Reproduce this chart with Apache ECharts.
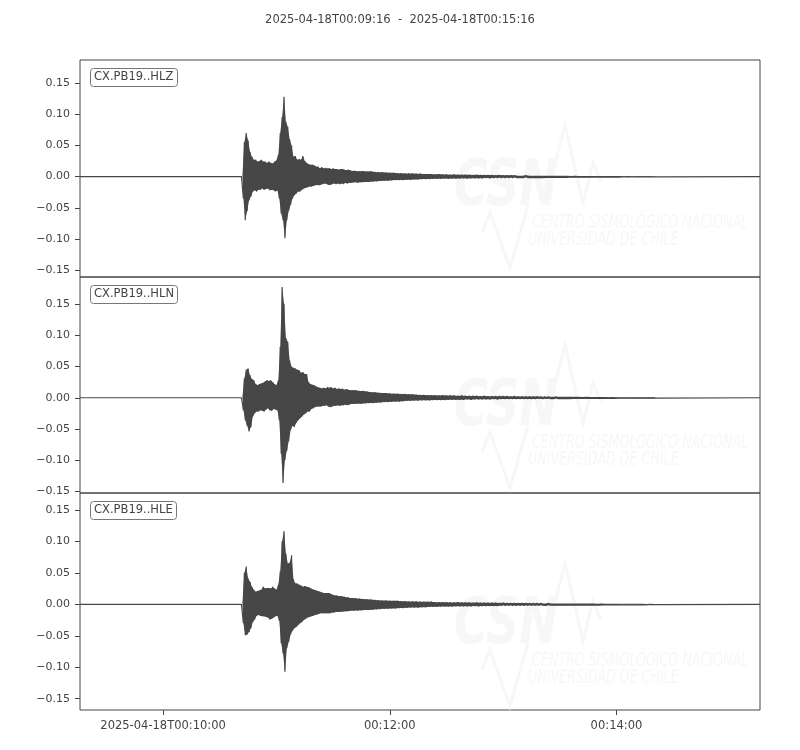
<!DOCTYPE html>
<html><head><meta charset="utf-8">
<script src="https://cdn.jsdelivr.net/npm/echarts@6/dist/echarts.min.js"></script>
<style>html,body{margin:0;padding:0;background:#fff}#c{width:800px;height:750px}</style>
</head><body><div id="c"></div>
<script>
// ---- data ----
const titleText = '2025-04-18T00:09:16  -  2025-04-18T00:15:16';
const channels = ['CX.PB19..HLZ', 'CX.PB19..HLN', 'CX.PB19..HLE'];
const timeRange = [556, 916];            // seconds after 2025-04-18T00:00:00
const xTicks = [600, 720, 840];
const xTickLabels = ['2025-04-18T00:10:00', '00:12:00', '00:14:00'];
const yTicks = [-0.15, -0.10, -0.05, 0, 0.05, 0.10, 0.15];
const yLimits = [[-0.161, 0.187], [-0.153, 0.194], [-0.168, 0.177]];

// envelope samples (units of 1e-3): dense part every 1 s from 642 s, tail every 2 s from 702 s
const denseStart = 642, denseStep = 1;
const tailStart = 702, tailStep = 2;

const hlzUp = [2,55,70,58,40,32,27,27,24,25, 27,24,24,22,24,22,21,24,26,35, 70,95,128,88,80,60,50,32,33,27, 28,27,33,25,22,20,19,19,18,16, 16,13.5,15,13,14,13,13.5,12,13,12, 12,11,12,12,11,10,11,10,9,9.5];
const hlzLo = [-35,-70,-55,-38,-32,-24,-22,-24,-21,-21, -19,-21,-20,-19,-22,-21,-22,-24,-22,-35, -59,-70,-99,-70,-55,-45,-35,-30,-27,-24, -24,-21,-19,-18,-17,-16,-16,-15,-14,-13.5, -14,-13,-12,-11,-12,-13,-13.5,-12,-11,-12, -11,-12,-11,-12,-10,-11,-10,-10,-9.5,-9];
const hlzTailUp = [9,8.5,9,8,8.5,7.5,7,7, 6.5,6,6,5.5,5.5,5,5,5,4.5,4.5,4,4, 4,3.5,4,3.5,3.5,3,3.5,3,3,3,3,2.5,3,2.5,2.5,2.5,2.5,2,2.5,2, 2,2,2,1.5,1.5,2,1.5,1.5,1.5,1.5, 1.5,1.5,1.2,1.5,1.2,1.2,1.2,1,1.2,1, 1,1,1,1,0.8,1,0.8,0.8,0.8,0.8, 0.8,0.6,0.8,0.6,0.6,0.6,0.5,0.5,0.5,0.5];
const hlzTailLo = [-9.5,-9,-8.5,-8.5,-8,-7.5,-7,-6.5, -6.5,-6,-5.5,-5.5,-5.5,-5,-5,-4.5,-4.5,-4,-4,-4, -3.5,-3.5,-3.5,-3,-3.5,-3,-3,-3,-2.5,-3,-2.5,-2.5,-2.5,-2.5,-2,-2.5,-2,-2,-2,-2, -2,-2,-1.5,-1.5,-1.5,-1.5,-1.5,-1.5,-1.2,-1.5, -1.2,-1.2,-1.2,-1.2,-1,-1.2,-1,-1,-1,-1, -1,-1,-0.8,-0.8,-0.8,-0.8,-0.8,-0.8,-0.6,-0.8, -0.6,-0.6,-0.6,-0.6,-0.5,-0.5,-0.5,-0.5,-0.4,-0.4];

const hlnUp = [2,31,45,47,36,30,28,22,20,22, 23,24,26,28,27,28,25,22,20,28, 82,178,151,96,90,60,50,48,47,45, 44,40,41,38,38,25,22,21,20,18, 17,16,15,16,15,17,16,17,15,16, 14,15,14,14.5,13,14,13,12,12,12];
const hlnLo = [-20,-36,-45,-54,-47,-30,-25,-22,-22,-20, -21,-22,-19,-17,-20,-21,-18,-19,-20,-36, -90,-137,-100,-85,-70,-52,-45,-47,-40,-36, -33,-30,-27,-25,-22,-22,-18,-17,-15,-14, -14,-14,-13,-13,-12,-14,-15,-14,-13,-13, -12,-13,-12,-12,-11,-12,-11,-10,-10,-9.5];
const hlnTailUp = [12,11,11,10,9,9,8,7.5, 7.5,7,6.5,6.5,6,6,5.5,5.5,5,4.5,4.5,4, 4,4,3.5,4,3.5,3.5,3.5,3,3.5,3,3,3,3,2.5,3,2.5,2.5,2.5,2.5,2.5, 2.5,2,2.5,2,2,2,2,2,2,1.8, 1.8,1.8,1.5,1.8,1.5,1.5,1.5,1.5,1.5,1.5, 1.2,1.5,1.2,1.2,1.2,1.2,1.2,1,1.2,1, 1,1,1,1,0.8,1,0.8,0.8,0.8,0.8];
const hlnTailLo = [-9.5,-9.5,-9,-8.5,-8.5,-8,-7.5,-7, -7,-6.5,-6,-6,-5.5,-5,-5,-4.5,-4.5,-4,-4,-4, -3.5,-3.5,-3.5,-3.5,-3,-3,-3,-3,-3,-2.5,-3,-2.5,-2.5,-2.5,-2.5,-2.5,-2,-2.5,-2,-2, -2,-2,-2,-2,-1.8,-1.8,-1.8,-1.8,-1.5,-1.8, -1.5,-1.5,-1.5,-1.5,-1.5,-1.2,-1.5,-1.2,-1.2,-1.2, -1.2,-1.2,-1,-1.2,-1,-1,-1,-1,-1,-0.8, -0.8,-0.8,-0.8,-0.8,-0.8,-0.6,-0.8,-0.6,-0.6,-0.6];

const hleUp = [2,50,60,41,36,28,23,20,21,22, 23,28,25,26,26,25,28,25,23,31, 52,100,116,81,65,66,78,40,33,33, 31,30,28,29,28,27,26,24,23,22, 21,20,19,18,18,18,18,16,15,14, 14,13,13,12.5,12,11,11,10,10,9.5];
const hleLo = [-30,-49,-48,-44,-38,-28,-24,-18,-17,-18, -19,-19,-20,-21,-24,-23,-21,-19,-18,-26, -62,-78,-107,-70,-60,-48,-42,-38,-36,-33, -30,-28,-25,-23,-21,-20,-19,-18,-17,-16, -15,-14,-14,-14,-14,-14,-14,-13,-13,-12, -12,-12,-11.5,-11.5,-11,-11,-10.5,-10,-10,-10];
const hleTailUp = [9.5,9,8.5,8,7.5,7,6.5,6, 6,5.5,5.5,5.5,5,5,4.5,4.5,4.5,4,4,4, 4,3.5,3.5,3.5,3.5,3,3,3.5,3,3,3,2.5,3,2.5,2.5,2.5,2.5,2.5,2,2.5, 2,2,2,2,2,2,1.8,1.8,1.8,1.8, 1.5,1.8,1.5,1.5,1.5,1.5,1.5,1.2,1.5,1.2, 1.2,1.2,1.2,1.2,1,1.2,1,1,1,1, 1,0.8,1,0.8,0.8,0.8,0.8,0.6,0.8,0.6];
const hleTailLo = [-10,-9.5,-9,-9,-8.5,-8,-7.5,-7, -7,-6.5,-6.5,-6,-6,-5.5,-5,-5,-5,-4.5,-4.5,-4, -4,-4,-3.5,-3.5,-3.5,-3.5,-3,-3,-3,-3,-3,-2.5,-3,-2.5,-2.5,-2.5,-2.5,-2.5,-2,-2, -2,-2,-2,-2,-2,-1.8,-1.8,-1.8,-1.8,-1.5, -1.8,-1.5,-1.5,-1.5,-1.5,-1.5,-1.2,-1.5,-1.2,-1.2, -1.2,-1.2,-1.2,-1,-1.2,-1,-1,-1,-1,-1, -0.8,-0.8,-0.8,-0.8,-0.8,-0.6,-0.8,-0.6,-0.6,-0.6];

const traces = [
  [hlzUp, hlzLo, hlzTailUp, hlzTailLo],
  [hlnUp, hlnLo, hlnTailUp, hlnTailLo],
  [hleUp, hleLo, hleTailUp, hleTailLo]
];

// ---- build ----
function samples(up, lo, tUp, tLo) {
  const upper = [], lower = [];
  up.forEach((v, i) => { const t = denseStart + i * denseStep; upper.push([t, v / 1000]); lower.push([t + denseStep / 2, lo[i] / 1000]); });
  tUp.forEach((v, i) => { const t = tailStart + i * tailStep; upper.push([t, v / 1000]); lower.push([t + tailStep / 2, tLo[i] / 1000]); });
  return { upper, lower };
}
function buildTrace(s) {
  const pts = [[timeRange[0], 0], [denseStart - 0.5, 0]];
  s.upper.forEach((p, i) => { pts.push(p); pts.push(s.lower[i]); });
  const last = s.upper[s.upper.length - 1][0];
  pts.push([last + tailStep, 0]);
  pts.push([timeRange[1], 0]);
  return pts;
}

const gridTops = [60, 277, 493];
const gridHeights = [217, 216, 217];
const axisColor = '#444';
const traceColor = '#474747';
const fontFam = '"DejaVu Sans", sans-serif';

const grids = [], xAxes = [], yAxes = [], series = [], titles = [];
titles.push({
  text: titleText, left: 'center', top: 14, padding: 0,
  textStyle: { fontSize: 11.5, fontWeight: 'normal', color: '#444', fontFamily: fontFam }
});

channels.forEach((ch, k) => {
  grids.push({ left: 80, width: 680, top: gridTops[k], height: gridHeights[k],
    show: true, borderColor: axisColor, borderWidth: 1, backgroundColor: 'transparent' });
  const isBottom = k === channels.length - 1;
  xAxes.push({
    type: 'value', gridIndex: k, min: timeRange[0], max: timeRange[1], position: 'bottom',
    axisLine: { show: false, onZero: false }, splitLine: { show: false },
    axisTick: isBottom ? { show: true, length: 5, customValues: xTicks, lineStyle: { color: axisColor } } : { show: false },
    axisLabel: isBottom ? {
      show: true, customValues: xTicks, margin: 10, fontSize: 11.5, color: '#444', fontFamily: fontFam,
      formatter: v => { const i = xTicks.indexOf(Math.round(v)); return i >= 0 ? xTickLabels[i] : ''; }
    } : { show: false }
  });
  yAxes.push({
    type: 'value', gridIndex: k, min: yLimits[k][0], max: yLimits[k][1], position: 'left',
    axisLine: { show: false, onZero: false }, splitLine: { show: false },
    axisTick: { show: true, length: 5, customValues: yTicks, lineStyle: { color: axisColor } },
    axisLabel: { show: true, customValues: yTicks, margin: 10, fontSize: 11, color: '#444', fontFamily: fontFam,
      formatter: v => (Math.abs(v) < 1e-9 ? 0 : v).toFixed(2).replace('-', '\u2212') }
  });
  const s = samples(...traces[k]);
  const poly = s.upper.concat(s.lower.slice().reverse());
  // solid envelope under the waveform
  series.push({
    type: 'custom', name: ch + ' envelope', xAxisIndex: k, yAxisIndex: k, data: [[denseStart, 0]],
    silent: true, z: 2, clip: true,
    renderItem: (params, api) => ({
      type: 'polygon',
      shape: { points: poly.map(p => api.coord(p)) },
      style: { fill: traceColor, stroke: null }
    })
  });
  series.push({
    type: 'line', name: ch, xAxisIndex: k, yAxisIndex: k, data: buildTrace(s),
    showSymbol: false, symbol: 'none', smooth: false, sampling: null, silent: true,
    lineStyle: { color: traceColor, width: 1.2 }, z: 3
  });
  titles.push({
    text: ch, left: 90, top: gridTops[k] + 8, padding: [3, 4],
    borderColor: '#777', borderWidth: 1, borderRadius: 3, backgroundColor: '#fff',
    textStyle: { fontSize: 11.5, lineHeight: 13, fontWeight: 'normal', color: '#444', fontFamily: fontFam }
  });
});

// faint watermark (decoration)
const wmOffsets = [0, 220, 438];
const wmColor = '#f7f7f7';
const wmFont = '"Liberation Sans Narrow", "DejaVu Sans Condensed", sans-serif';
const graphics = [];
wmOffsets.forEach(dy => {
  graphics.push({ type: 'polyline', silent: true, z: 0,
    shape: { points: [[482, 232 + dy], [490, 212 + dy], [510, 268 + dy], [528, 205 + dy]] },
    style: { stroke: wmColor, lineWidth: 3, fill: null } });
  graphics.push({ type: 'polyline', silent: true, z: 0,
    shape: { points: [[548, 192 + dy], [565, 125 + dy], [583, 203 + dy], [593, 163 + dy], [601, 182 + dy]] },
    style: { stroke: wmColor, lineWidth: 3, fill: null } });
  graphics.push({ type: 'text', silent: true, z: 0, x: 454, y: 156 + dy, scaleX: 0.8,
    style: { text: 'CSN', x: 0, y: 0, fill: wmColor, font: 'italic bold 64px ' + wmFont } });
  graphics.push({ type: 'text', silent: true, z: 0, x: 532, y: 214 + dy, scaleX: 0.74,
    style: { text: 'CENTRO SISMOLÓGICO NACIONAL', x: 0, y: 0, fill: wmColor, font: 'italic 19px ' + wmFont } });
  graphics.push({ type: 'text', silent: true, z: 0, x: 528, y: 231 + dy, scaleX: 0.74,
    style: { text: 'UNIVERSIDAD DE CHILE', x: 0, y: 0, fill: wmColor, font: 'italic 19px ' + wmFont } });
});

const chart = echarts.init(document.getElementById('c'), null, { renderer: 'canvas' });
chart.setOption({
  animation: false,
  backgroundColor: '#fff',
  title: titles,
  grid: grids,
  xAxis: xAxes,
  yAxis: yAxes,
  graphic: { elements: graphics },
  series: series
});
</script>
</body></html>
